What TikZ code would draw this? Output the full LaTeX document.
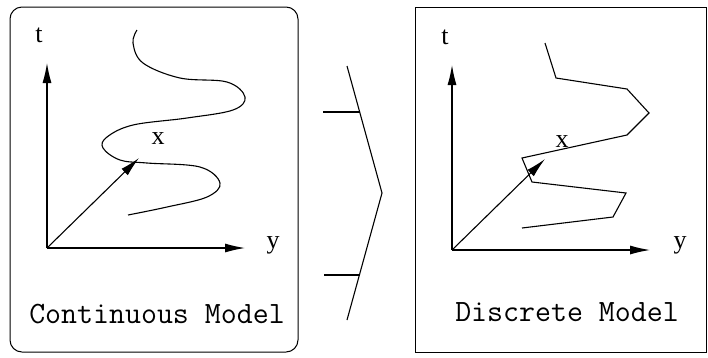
\documentclass[tikz,border=0pt]{standalone}
\usepackage{fontspec}
\setmainfont{Liberation Serif}
\usetikzlibrary{arrows.meta}
\begin{document}
\begin{tikzpicture}[x=1pt,y=-1pt,
  axis/.style={line width=1.1pt,-{Latex[length=20pt,width=9pt]}},
  curve/.style={line width=1.1pt},
  panel/.style={draw,line width=1pt},
  caption/.style={font=\ttfamily\fontsize{31}{31}\selectfont,inner sep=0pt},
  varlabel/.style={font=\fontsize{26}{26}\selectfont,inner sep=0pt}]
\useasboundingbox (0,0) rectangle (708,357);
% panels
\draw[panel,rounded corners=12pt] (10,7) rectangle (298,352);
\draw[panel] (415,7) rectangle (706,352);
% chevron
\coordinate (ctop) at (347,66);
\coordinate (ctip) at (382,193);
\coordinate (cbot) at (347,320);
\draw[curve] (ctop) -- (ctip) -- (cbot);
\coordinate (ta) at (323,112); \coordinate (tb) at (360,112);
\coordinate (ba) at (324,275); \coordinate (bb) at (360,275);
\draw[curve] (ta) -- (tb);
\draw[curve] (ba) -- (bb);
% left panel
\coordinate (o1) at (47,248);
\coordinate (t1) at (47,63);
\coordinate (y1) at (245,248);
\coordinate (x1) at (139,158);
\draw[axis] (o1) -- (t1);
\draw[axis] (o1) -- (y1);
\draw[axis] (o1) -- (x1);
\node[varlabel] (lt1) at (39,35) {t};
\node[varlabel] (ly1) at (273,245) {y};
\node[varlabel] (lx1) at (158,139) {x};
\draw[curve] plot[smooth,tension=0.6] coordinates {(137,30) (133,43) (143,63) (180,78) (227,82) (245,97) (233,110) (187,118) (133,125) (107,137) (103,148) (120,160) (147,163) (200,167) (220,183) (207,197) (167,207) (128,215)};
\node[caption] (c1) at (157,314) {Continuous Model};
% right panel
\coordinate (o2) at (452,250);
\coordinate (t2) at (452,65);
\coordinate (y2) at (650,250);
\coordinate (x2) at (545,159);
\draw[axis] (o2) -- (t2);
\draw[axis] (o2) -- (y2);
\draw[axis] (o2) -- (x2);
\node[varlabel] (lt2) at (445,37) {t};
\node[varlabel] (ly2) at (680,245) {y};
\node[varlabel] (lx2) at (562,142) {x};
\draw[curve,line join=miter] (545,43) -- (556,78) -- (627,89) -- (649,113) -- (627,135) -- (522,158) -- (532,182) -- (626,193) -- (613,217) -- (522,228);
\node[caption] (c2) at (567,312) {Discrete Model};
\end{tikzpicture}
\end{document}
